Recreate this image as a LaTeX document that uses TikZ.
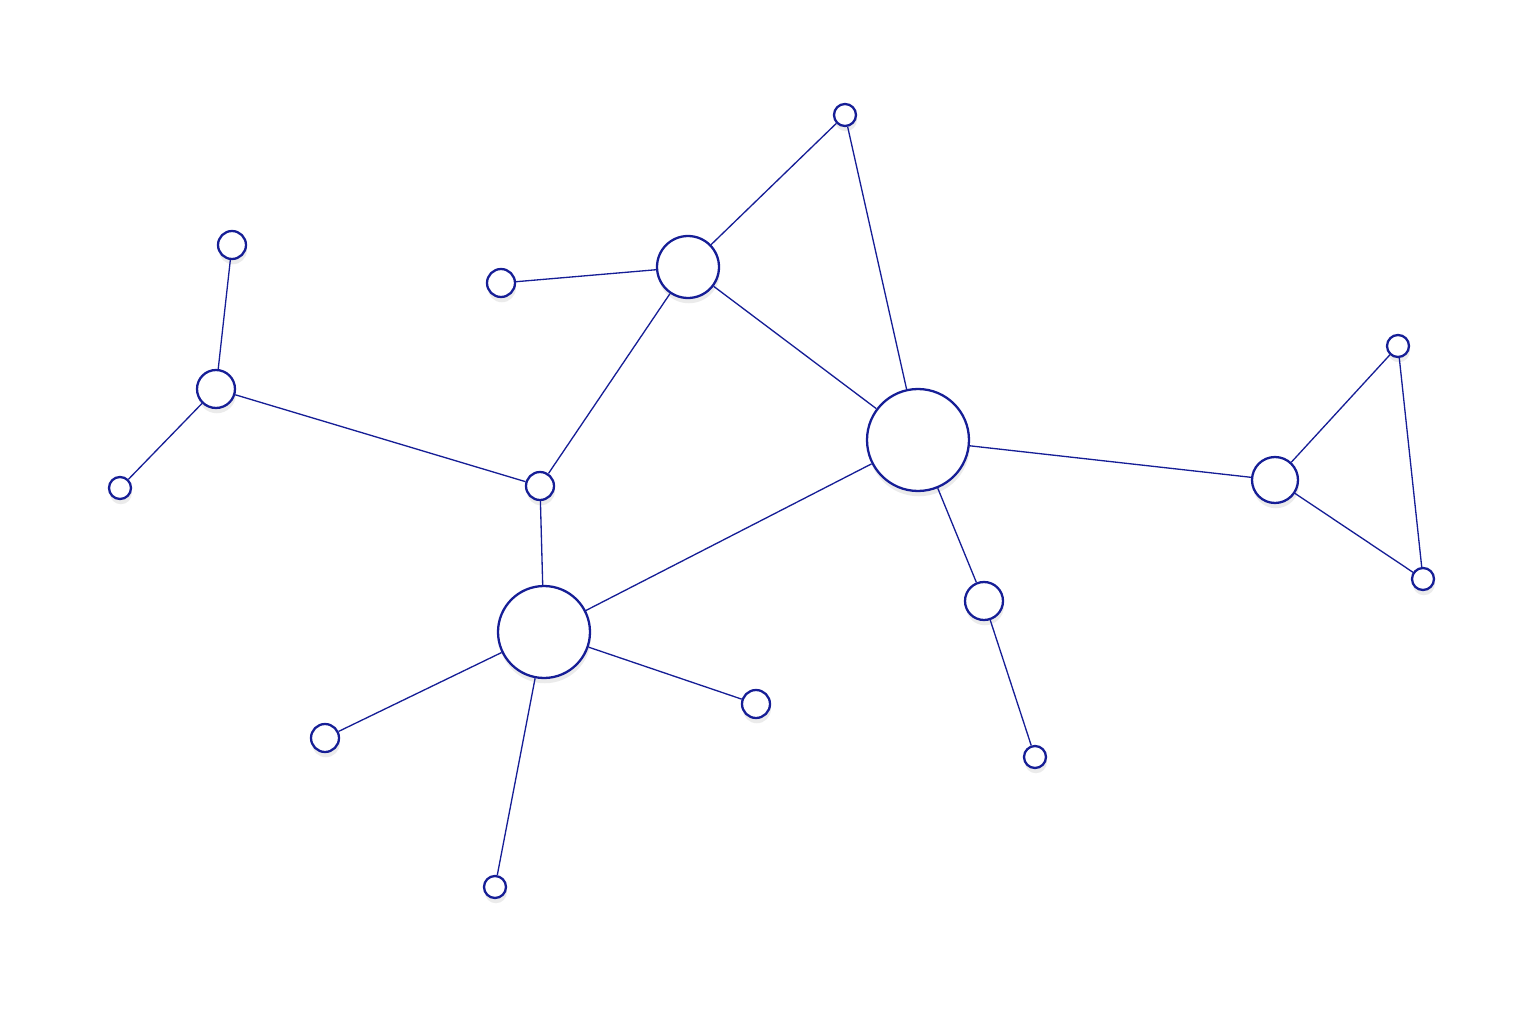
\documentclass[tikz,border=0pt]{standalone}
\usepackage{xcolor}
\usepackage{tikz}
\usetikzlibrary{shadows}
\definecolor{edgeblue}{RGB}{22, 30, 150}

\begin{document}
\begin{tikzpicture}[x=0.02cm, y=-0.02cm,
    vertex/.style={circle, draw=edgeblue, line width=1.3pt, fill=white, inner sep=0pt,
        drop shadow={shadow xshift=0.5pt, shadow yshift=-3pt, opacity=0.08, fill=black}},
    tiny/.style={vertex, minimum size=0.44cm},
    small/.style={vertex, minimum size=0.56cm},
    mid/.style={vertex, minimum size=0.76cm},
    hub/.style={vertex, minimum size=0.92cm},
    big/.style={vertex, minimum size=1.24cm},
    huge/.style={vertex, minimum size=1.84cm},
    giant/.style={vertex, minimum size=2.04cm},
    link/.style={draw=edgeblue, line width=0.75pt}]
        \useasboundingbox (0,0) rectangle (1536,1024);
        
        % Vertices
        \node[tiny] (top) at (845,115) {};
        \node[big] (upper) at (688,267) {};
        \node[small] (leftleaf) at (501,283) {};
        \node[small] (farup) at (232,245) {};
        \node[mid] (west) at (216,389) {};
        \node[tiny] (farwest) at (120,488) {};
        \node[small] (joint) at (540,486) {};
        \node[giant] (center) at (918,440) {};
        \node[hub] (east) at (1275,480) {};
        \node[tiny] (eastup) at (1398,346) {};
        \node[tiny] (eastdown) at (1423,579) {};
        \node[mid] (south) at (984,601) {};
        \node[tiny] (southend) at (1035,757) {};
        \node[huge] (lower) at (544,632) {};
        \node[small] (lowleft) at (325,738) {};
        \node[small] (lowright) at (756,704) {};
        \node[tiny] (bottom) at (495,887) {};
        
        % Links
        \path[link] (top) -- (upper);
        \path[link] (top) -- (center);
        \path[link] (leftleaf) -- (upper);
        \path[link] (upper) -- (center);
        \path[link] (upper) -- (joint);
        \path[link] (farup) -- (west);
        \path[link] (west) -- (farwest);
        \path[link] (west) -- (joint);
        \path[link] (joint) -- (lower);
        \path[link] (lower) -- (center);
        \path[link] (center) -- (east);
        \path[link] (east) -- (eastup);
        \path[link] (eastup) -- (eastdown);
        \path[link] (east) -- (eastdown);
        \path[link] (center) -- (south);
        \path[link] (south) -- (southend);
        \path[link] (lower) -- (lowleft);
        \path[link] (lower) -- (lowright);
        \path[link] (lower) -- (bottom);
        
    \end{tikzpicture}
\end{document}
